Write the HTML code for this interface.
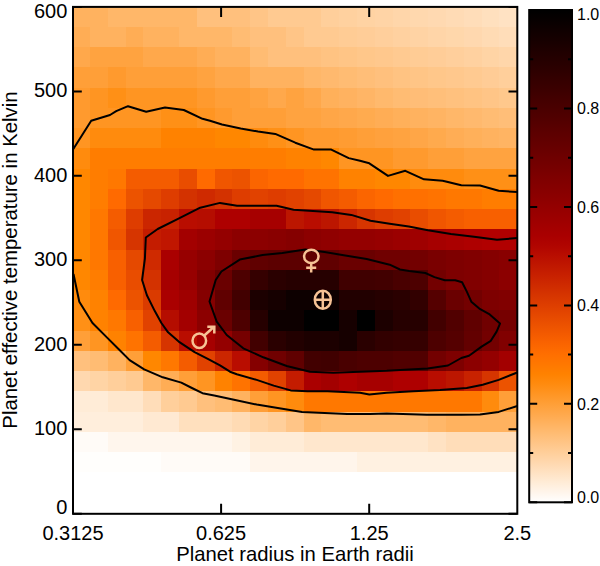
<!DOCTYPE html>
<html><head><meta charset="utf-8"><style>
html,body{margin:0;padding:0;background:#fff;}
svg{display:block;font-family:"Liberation Sans",sans-serif;}
</style></head><body>
<svg width="600" height="566" viewBox="0 0 600 566">
<defs><filter id="bl" x="-1%" y="-1%" width="102%" height="102%"><feGaussianBlur stdDeviation="0.6"/></filter><linearGradient id="cb" x1="0" y1="0" x2="0" y2="1"><stop offset="0.000" stop-color="#000000"/><stop offset="0.020" stop-color="#070000"/><stop offset="0.040" stop-color="#0f0000"/><stop offset="0.060" stop-color="#160000"/><stop offset="0.080" stop-color="#1e0000"/><stop offset="0.100" stop-color="#250000"/><stop offset="0.120" stop-color="#2c0000"/><stop offset="0.140" stop-color="#340000"/><stop offset="0.160" stop-color="#3b0000"/><stop offset="0.180" stop-color="#430000"/><stop offset="0.200" stop-color="#4a0000"/><stop offset="0.220" stop-color="#510000"/><stop offset="0.240" stop-color="#590000"/><stop offset="0.260" stop-color="#600000"/><stop offset="0.280" stop-color="#670000"/><stop offset="0.300" stop-color="#6f0000"/><stop offset="0.320" stop-color="#760000"/><stop offset="0.340" stop-color="#7e0000"/><stop offset="0.360" stop-color="#850000"/><stop offset="0.380" stop-color="#8c0000"/><stop offset="0.400" stop-color="#940000"/><stop offset="0.420" stop-color="#9b0000"/><stop offset="0.440" stop-color="#a30000"/><stop offset="0.460" stop-color="#aa0000"/><stop offset="0.480" stop-color="#b10500"/><stop offset="0.500" stop-color="#b90e00"/><stop offset="0.520" stop-color="#c01800"/><stop offset="0.540" stop-color="#c82100"/><stop offset="0.560" stop-color="#cf2b00"/><stop offset="0.580" stop-color="#d63500"/><stop offset="0.600" stop-color="#de3e00"/><stop offset="0.620" stop-color="#e54800"/><stop offset="0.640" stop-color="#ec5200"/><stop offset="0.660" stop-color="#f45b00"/><stop offset="0.680" stop-color="#fb6500"/><stop offset="0.700" stop-color="#ff6f00"/><stop offset="0.720" stop-color="#ff7800"/><stop offset="0.740" stop-color="#ff8200"/><stop offset="0.760" stop-color="#ff8b0f"/><stop offset="0.780" stop-color="#ff9523"/><stop offset="0.800" stop-color="#ff9f37"/><stop offset="0.820" stop-color="#ffa84b"/><stop offset="0.840" stop-color="#ffb25f"/><stop offset="0.860" stop-color="#ffbc73"/><stop offset="0.880" stop-color="#ffc587"/><stop offset="0.900" stop-color="#ffcf9b"/><stop offset="0.920" stop-color="#ffd8af"/><stop offset="0.940" stop-color="#ffe2c3"/><stop offset="0.960" stop-color="#ffecd7"/><stop offset="0.980" stop-color="#fff5eb"/><stop offset="1.000" stop-color="#ffffff"/></linearGradient></defs>
<g shape-rendering="crispEdges" filter="url(#bl)">
<rect x="72.20" y="6.50" width="18.20" height="20.66" fill="#ffb25f"/>
<rect x="90.00" y="6.50" width="18.20" height="20.66" fill="#ffb25f"/>
<rect x="107.80" y="6.50" width="18.20" height="20.66" fill="#ffb769"/>
<rect x="125.60" y="6.50" width="18.20" height="20.66" fill="#ffb769"/>
<rect x="143.40" y="6.50" width="18.20" height="20.66" fill="#ffb769"/>
<rect x="161.20" y="6.50" width="18.20" height="20.66" fill="#ffb769"/>
<rect x="179.00" y="6.50" width="18.20" height="20.66" fill="#ffb769"/>
<rect x="196.80" y="6.50" width="18.20" height="20.66" fill="#ffc07d"/>
<rect x="214.60" y="6.50" width="18.20" height="20.66" fill="#ffc07d"/>
<rect x="232.40" y="6.50" width="18.20" height="20.66" fill="#ffc07d"/>
<rect x="250.20" y="6.50" width="18.20" height="20.66" fill="#ffc587"/>
<rect x="268.00" y="6.50" width="18.20" height="20.66" fill="#ffca91"/>
<rect x="285.80" y="6.50" width="18.20" height="20.66" fill="#ffca91"/>
<rect x="303.60" y="6.50" width="18.20" height="20.66" fill="#ffca91"/>
<rect x="321.40" y="6.50" width="18.20" height="20.66" fill="#ffcf9b"/>
<rect x="339.20" y="6.50" width="18.20" height="20.66" fill="#ffd19f"/>
<rect x="357.00" y="6.50" width="18.20" height="20.66" fill="#ffd3a3"/>
<rect x="374.80" y="6.50" width="18.20" height="20.66" fill="#ffd4a6"/>
<rect x="392.60" y="6.50" width="18.20" height="20.66" fill="#ffd6aa"/>
<rect x="410.40" y="6.50" width="18.20" height="20.66" fill="#ffd8ae"/>
<rect x="428.20" y="6.50" width="18.20" height="20.66" fill="#ffd9b1"/>
<rect x="446.00" y="6.50" width="18.20" height="20.66" fill="#ffdbb5"/>
<rect x="463.80" y="6.50" width="18.20" height="20.66" fill="#ffddb9"/>
<rect x="481.60" y="6.50" width="18.20" height="20.66" fill="#ffe0be"/>
<rect x="499.40" y="6.50" width="18.20" height="20.66" fill="#ffe2c3"/>
<rect x="72.20" y="26.76" width="18.20" height="20.66" fill="#ffad55"/>
<rect x="90.00" y="26.76" width="18.20" height="20.66" fill="#ffb25f"/>
<rect x="107.80" y="26.76" width="18.20" height="20.66" fill="#ffb25f"/>
<rect x="125.60" y="26.76" width="18.20" height="20.66" fill="#ffad55"/>
<rect x="143.40" y="26.76" width="18.20" height="20.66" fill="#ffb25f"/>
<rect x="161.20" y="26.76" width="18.20" height="20.66" fill="#ffb25f"/>
<rect x="179.00" y="26.76" width="18.20" height="20.66" fill="#ffb769"/>
<rect x="196.80" y="26.76" width="18.20" height="20.66" fill="#ffb769"/>
<rect x="214.60" y="26.76" width="18.20" height="20.66" fill="#ffb769"/>
<rect x="232.40" y="26.76" width="18.20" height="20.66" fill="#ffbc73"/>
<rect x="250.20" y="26.76" width="18.20" height="20.66" fill="#ffc07d"/>
<rect x="268.00" y="26.76" width="18.20" height="20.66" fill="#ffc07d"/>
<rect x="285.80" y="26.76" width="18.20" height="20.66" fill="#ffc587"/>
<rect x="303.60" y="26.76" width="18.20" height="20.66" fill="#ffca91"/>
<rect x="321.40" y="26.76" width="18.20" height="20.66" fill="#ffca91"/>
<rect x="339.20" y="26.76" width="18.20" height="20.66" fill="#ffcc95"/>
<rect x="357.00" y="26.76" width="18.20" height="20.66" fill="#ffcd98"/>
<rect x="374.80" y="26.76" width="18.20" height="20.66" fill="#ffcf9c"/>
<rect x="392.60" y="26.76" width="18.20" height="20.66" fill="#ffd1a0"/>
<rect x="410.40" y="26.76" width="18.20" height="20.66" fill="#ffd3a4"/>
<rect x="428.20" y="26.76" width="18.20" height="20.66" fill="#ffd5a8"/>
<rect x="446.00" y="26.76" width="18.20" height="20.66" fill="#ffd7ab"/>
<rect x="463.80" y="26.76" width="18.20" height="20.66" fill="#ffd8af"/>
<rect x="481.60" y="26.76" width="18.20" height="20.66" fill="#ffdbb4"/>
<rect x="499.40" y="26.76" width="18.20" height="20.66" fill="#ffddb9"/>
<rect x="72.20" y="47.02" width="18.20" height="20.66" fill="#ffa84b"/>
<rect x="90.00" y="47.02" width="18.20" height="20.66" fill="#ffa341"/>
<rect x="107.80" y="47.02" width="18.20" height="20.66" fill="#ffa341"/>
<rect x="125.60" y="47.02" width="18.20" height="20.66" fill="#ffa341"/>
<rect x="143.40" y="47.02" width="18.20" height="20.66" fill="#ffa84b"/>
<rect x="161.20" y="47.02" width="18.20" height="20.66" fill="#ffa84b"/>
<rect x="179.00" y="47.02" width="18.20" height="20.66" fill="#ffa84b"/>
<rect x="196.80" y="47.02" width="18.20" height="20.66" fill="#ffad55"/>
<rect x="214.60" y="47.02" width="18.20" height="20.66" fill="#ffb25f"/>
<rect x="232.40" y="47.02" width="18.20" height="20.66" fill="#ffb25f"/>
<rect x="250.20" y="47.02" width="18.20" height="20.66" fill="#ffbc73"/>
<rect x="268.00" y="47.02" width="18.20" height="20.66" fill="#ffc07d"/>
<rect x="285.80" y="47.02" width="18.20" height="20.66" fill="#ffc07d"/>
<rect x="303.60" y="47.02" width="18.20" height="20.66" fill="#ffc07d"/>
<rect x="321.40" y="47.02" width="18.20" height="20.66" fill="#ffc382"/>
<rect x="339.20" y="47.02" width="18.20" height="20.66" fill="#ffc586"/>
<rect x="357.00" y="47.02" width="18.20" height="20.66" fill="#ffc78a"/>
<rect x="374.80" y="47.02" width="18.20" height="20.66" fill="#ffc88d"/>
<rect x="392.60" y="47.02" width="18.20" height="20.66" fill="#ffca91"/>
<rect x="410.40" y="47.02" width="18.20" height="20.66" fill="#ffcc95"/>
<rect x="428.20" y="47.02" width="18.20" height="20.66" fill="#ffcd98"/>
<rect x="446.00" y="47.02" width="18.20" height="20.66" fill="#ffcf9c"/>
<rect x="463.80" y="47.02" width="18.20" height="20.66" fill="#ffd1a0"/>
<rect x="481.60" y="47.02" width="18.20" height="20.66" fill="#ffd4a5"/>
<rect x="499.40" y="47.02" width="18.20" height="20.66" fill="#ffd6aa"/>
<rect x="72.20" y="67.28" width="18.20" height="20.66" fill="#ff9f37"/>
<rect x="90.00" y="67.28" width="18.20" height="20.66" fill="#ff9f37"/>
<rect x="107.80" y="67.28" width="18.20" height="20.66" fill="#ff9a2d"/>
<rect x="125.60" y="67.28" width="18.20" height="20.66" fill="#ff9f37"/>
<rect x="143.40" y="67.28" width="18.20" height="20.66" fill="#ff9f37"/>
<rect x="161.20" y="67.28" width="18.20" height="20.66" fill="#ff9f37"/>
<rect x="179.00" y="67.28" width="18.20" height="20.66" fill="#ff9f37"/>
<rect x="196.80" y="67.28" width="18.20" height="20.66" fill="#ffa341"/>
<rect x="214.60" y="67.28" width="18.20" height="20.66" fill="#ffa84b"/>
<rect x="232.40" y="67.28" width="18.20" height="20.66" fill="#ffa84b"/>
<rect x="250.20" y="67.28" width="18.20" height="20.66" fill="#ffb25f"/>
<rect x="268.00" y="67.28" width="18.20" height="20.66" fill="#ffb25f"/>
<rect x="285.80" y="67.28" width="18.20" height="20.66" fill="#ffb25f"/>
<rect x="303.60" y="67.28" width="18.20" height="20.66" fill="#ffb769"/>
<rect x="321.40" y="67.28" width="18.20" height="20.66" fill="#ffb96e"/>
<rect x="339.20" y="67.28" width="18.20" height="20.66" fill="#ffbc73"/>
<rect x="357.00" y="67.28" width="18.20" height="20.66" fill="#ffbe78"/>
<rect x="374.80" y="67.28" width="18.20" height="20.66" fill="#ffc07d"/>
<rect x="392.60" y="67.28" width="18.20" height="20.66" fill="#ffc382"/>
<rect x="410.40" y="67.28" width="18.20" height="20.66" fill="#ffc586"/>
<rect x="428.20" y="67.28" width="18.20" height="20.66" fill="#ffc78a"/>
<rect x="446.00" y="67.28" width="18.20" height="20.66" fill="#ffc88d"/>
<rect x="463.80" y="67.28" width="18.20" height="20.66" fill="#ffca91"/>
<rect x="481.60" y="67.28" width="18.20" height="20.66" fill="#ffcc96"/>
<rect x="499.40" y="67.28" width="18.20" height="20.66" fill="#ffcf9b"/>
<rect x="72.20" y="87.54" width="18.20" height="20.66" fill="#ff9a2d"/>
<rect x="90.00" y="87.54" width="18.20" height="20.66" fill="#ff9523"/>
<rect x="107.80" y="87.54" width="18.20" height="20.66" fill="#ff9019"/>
<rect x="125.60" y="87.54" width="18.20" height="20.66" fill="#ff9523"/>
<rect x="143.40" y="87.54" width="18.20" height="20.66" fill="#ff9523"/>
<rect x="161.20" y="87.54" width="18.20" height="20.66" fill="#ff9523"/>
<rect x="179.00" y="87.54" width="18.20" height="20.66" fill="#ff9523"/>
<rect x="196.80" y="87.54" width="18.20" height="20.66" fill="#ff9a2d"/>
<rect x="214.60" y="87.54" width="18.20" height="20.66" fill="#ff9f37"/>
<rect x="232.40" y="87.54" width="18.20" height="20.66" fill="#ff9f37"/>
<rect x="250.20" y="87.54" width="18.20" height="20.66" fill="#ffa341"/>
<rect x="268.00" y="87.54" width="18.20" height="20.66" fill="#ffa84b"/>
<rect x="285.80" y="87.54" width="18.20" height="20.66" fill="#ffa341"/>
<rect x="303.60" y="87.54" width="18.20" height="20.66" fill="#ffa84b"/>
<rect x="321.40" y="87.54" width="18.20" height="20.66" fill="#ffb05a"/>
<rect x="339.20" y="87.54" width="18.20" height="20.66" fill="#ffb260"/>
<rect x="357.00" y="87.54" width="18.20" height="20.66" fill="#ffb566"/>
<rect x="374.80" y="87.54" width="18.20" height="20.66" fill="#ffb96d"/>
<rect x="392.60" y="87.54" width="18.20" height="20.66" fill="#ffbc73"/>
<rect x="410.40" y="87.54" width="18.20" height="20.66" fill="#ffbd77"/>
<rect x="428.20" y="87.54" width="18.20" height="20.66" fill="#ffbf7a"/>
<rect x="446.00" y="87.54" width="18.20" height="20.66" fill="#ffc17e"/>
<rect x="463.80" y="87.54" width="18.20" height="20.66" fill="#ffc382"/>
<rect x="481.60" y="87.54" width="18.20" height="20.66" fill="#ffc587"/>
<rect x="499.40" y="87.54" width="18.20" height="20.66" fill="#ffc88c"/>
<rect x="72.20" y="107.80" width="18.20" height="20.66" fill="#ff9a2d"/>
<rect x="90.00" y="107.80" width="18.20" height="20.66" fill="#ff9523"/>
<rect x="107.80" y="107.80" width="18.20" height="20.66" fill="#ff9523"/>
<rect x="125.60" y="107.80" width="18.20" height="20.66" fill="#ff9523"/>
<rect x="143.40" y="107.80" width="18.20" height="20.66" fill="#ff9523"/>
<rect x="161.20" y="107.80" width="18.20" height="20.66" fill="#ff9019"/>
<rect x="179.00" y="107.80" width="18.20" height="20.66" fill="#ff9019"/>
<rect x="196.80" y="107.80" width="18.20" height="20.66" fill="#ff9523"/>
<rect x="214.60" y="107.80" width="18.20" height="20.66" fill="#ff9a2d"/>
<rect x="232.40" y="107.80" width="18.20" height="20.66" fill="#ff9f37"/>
<rect x="250.20" y="107.80" width="18.20" height="20.66" fill="#ff9f37"/>
<rect x="268.00" y="107.80" width="18.20" height="20.66" fill="#ff9f37"/>
<rect x="285.80" y="107.80" width="18.20" height="20.66" fill="#ffa341"/>
<rect x="303.60" y="107.80" width="18.20" height="20.66" fill="#ffa341"/>
<rect x="321.40" y="107.80" width="18.20" height="20.66" fill="#ffa646"/>
<rect x="339.20" y="107.80" width="18.20" height="20.66" fill="#ffa84b"/>
<rect x="357.00" y="107.80" width="18.20" height="20.66" fill="#ffab50"/>
<rect x="374.80" y="107.80" width="18.20" height="20.66" fill="#ffad55"/>
<rect x="392.60" y="107.80" width="18.20" height="20.66" fill="#ffb05a"/>
<rect x="410.40" y="107.80" width="18.20" height="20.66" fill="#ffb25f"/>
<rect x="428.20" y="107.80" width="18.20" height="20.66" fill="#ffb464"/>
<rect x="446.00" y="107.80" width="18.20" height="20.66" fill="#ffb769"/>
<rect x="463.80" y="107.80" width="18.20" height="20.66" fill="#ffb96e"/>
<rect x="481.60" y="107.80" width="18.20" height="20.66" fill="#ffbc73"/>
<rect x="499.40" y="107.80" width="18.20" height="20.66" fill="#ffbe78"/>
<rect x="72.20" y="128.06" width="18.20" height="20.66" fill="#ff9523"/>
<rect x="90.00" y="128.06" width="18.20" height="20.66" fill="#ff8b0f"/>
<rect x="107.80" y="128.06" width="18.20" height="20.66" fill="#ff8b0f"/>
<rect x="125.60" y="128.06" width="18.20" height="20.66" fill="#ff8b0f"/>
<rect x="143.40" y="128.06" width="18.20" height="20.66" fill="#ff8b0f"/>
<rect x="161.20" y="128.06" width="18.20" height="20.66" fill="#ff8200"/>
<rect x="179.00" y="128.06" width="18.20" height="20.66" fill="#ff8200"/>
<rect x="196.80" y="128.06" width="18.20" height="20.66" fill="#ff8200"/>
<rect x="214.60" y="128.06" width="18.20" height="20.66" fill="#ff8705"/>
<rect x="232.40" y="128.06" width="18.20" height="20.66" fill="#ff8705"/>
<rect x="250.20" y="128.06" width="18.20" height="20.66" fill="#ff8b0f"/>
<rect x="268.00" y="128.06" width="18.20" height="20.66" fill="#ff9019"/>
<rect x="285.80" y="128.06" width="18.20" height="20.66" fill="#ff9523"/>
<rect x="303.60" y="128.06" width="18.20" height="20.66" fill="#ff9a2d"/>
<rect x="321.40" y="128.06" width="18.20" height="20.66" fill="#ff9a2d"/>
<rect x="339.20" y="128.06" width="18.20" height="20.66" fill="#ff9c32"/>
<rect x="357.00" y="128.06" width="18.20" height="20.66" fill="#ff9f37"/>
<rect x="374.80" y="128.06" width="18.20" height="20.66" fill="#ffa13c"/>
<rect x="392.60" y="128.06" width="18.20" height="20.66" fill="#ffa341"/>
<rect x="410.40" y="128.06" width="18.20" height="20.66" fill="#ffa647"/>
<rect x="428.20" y="128.06" width="18.20" height="20.66" fill="#ffaa4e"/>
<rect x="446.00" y="128.06" width="18.20" height="20.66" fill="#ffad54"/>
<rect x="463.80" y="128.06" width="18.20" height="20.66" fill="#ffb05a"/>
<rect x="481.60" y="128.06" width="18.20" height="20.66" fill="#ffb25f"/>
<rect x="499.40" y="128.06" width="18.20" height="20.66" fill="#ffb464"/>
<rect x="72.20" y="148.32" width="18.20" height="20.66" fill="#ff8b0f"/>
<rect x="90.00" y="148.32" width="18.20" height="20.66" fill="#ff7d00"/>
<rect x="107.80" y="148.32" width="18.20" height="20.66" fill="#ff7d00"/>
<rect x="125.60" y="148.32" width="18.20" height="20.66" fill="#ff7d00"/>
<rect x="143.40" y="148.32" width="18.20" height="20.66" fill="#ff7d00"/>
<rect x="161.20" y="148.32" width="18.20" height="20.66" fill="#ff7d00"/>
<rect x="179.00" y="148.32" width="18.20" height="20.66" fill="#ff7d00"/>
<rect x="196.80" y="148.32" width="18.20" height="20.66" fill="#ff7d00"/>
<rect x="214.60" y="148.32" width="18.20" height="20.66" fill="#ff7d00"/>
<rect x="232.40" y="148.32" width="18.20" height="20.66" fill="#ff7d00"/>
<rect x="250.20" y="148.32" width="18.20" height="20.66" fill="#ff7d00"/>
<rect x="268.00" y="148.32" width="18.20" height="20.66" fill="#ff7d00"/>
<rect x="285.80" y="148.32" width="18.20" height="20.66" fill="#ff8200"/>
<rect x="303.60" y="148.32" width="18.20" height="20.66" fill="#ff8200"/>
<rect x="321.40" y="148.32" width="18.20" height="20.66" fill="#ff8705"/>
<rect x="339.20" y="148.32" width="18.20" height="20.66" fill="#ff9523"/>
<rect x="357.00" y="148.32" width="18.20" height="20.66" fill="#ff9523"/>
<rect x="374.80" y="148.32" width="18.20" height="20.66" fill="#ff9523"/>
<rect x="392.60" y="148.32" width="18.20" height="20.66" fill="#ff9a2d"/>
<rect x="410.40" y="148.32" width="18.20" height="20.66" fill="#ff9a2d"/>
<rect x="428.20" y="148.32" width="18.20" height="20.66" fill="#ff9f37"/>
<rect x="446.00" y="148.32" width="18.20" height="20.66" fill="#ff9f37"/>
<rect x="463.80" y="148.32" width="18.20" height="20.66" fill="#ffa341"/>
<rect x="481.60" y="148.32" width="18.20" height="20.66" fill="#ffa341"/>
<rect x="499.40" y="148.32" width="18.20" height="20.66" fill="#ffa341"/>
<rect x="72.20" y="168.58" width="18.20" height="20.66" fill="#ff8705"/>
<rect x="90.00" y="168.58" width="18.20" height="20.66" fill="#ff7d00"/>
<rect x="107.80" y="168.58" width="18.20" height="20.66" fill="#ff7800"/>
<rect x="125.60" y="168.58" width="18.20" height="20.66" fill="#f45b00"/>
<rect x="143.40" y="168.58" width="18.20" height="20.66" fill="#f45b00"/>
<rect x="161.20" y="168.58" width="18.20" height="20.66" fill="#f45b00"/>
<rect x="179.00" y="168.58" width="18.20" height="20.66" fill="#e94d00"/>
<rect x="196.80" y="168.58" width="18.20" height="20.66" fill="#ff6a00"/>
<rect x="214.60" y="168.58" width="18.20" height="20.66" fill="#f05600"/>
<rect x="232.40" y="168.58" width="18.20" height="20.66" fill="#ec5200"/>
<rect x="250.20" y="168.58" width="18.20" height="20.66" fill="#fb6500"/>
<rect x="268.00" y="168.58" width="18.20" height="20.66" fill="#ff6a00"/>
<rect x="285.80" y="168.58" width="18.20" height="20.66" fill="#ff6a00"/>
<rect x="303.60" y="168.58" width="18.20" height="20.66" fill="#ff7300"/>
<rect x="321.40" y="168.58" width="18.20" height="20.66" fill="#ff7300"/>
<rect x="339.20" y="168.58" width="18.20" height="20.66" fill="#ff8200"/>
<rect x="357.00" y="168.58" width="18.20" height="20.66" fill="#ff8200"/>
<rect x="374.80" y="168.58" width="18.20" height="20.66" fill="#ff8705"/>
<rect x="392.60" y="168.58" width="18.20" height="20.66" fill="#ff8705"/>
<rect x="410.40" y="168.58" width="18.20" height="20.66" fill="#ff8b0f"/>
<rect x="428.20" y="168.58" width="18.20" height="20.66" fill="#ff8b0f"/>
<rect x="446.00" y="168.58" width="18.20" height="20.66" fill="#ff8b0f"/>
<rect x="463.80" y="168.58" width="18.20" height="20.66" fill="#ff9019"/>
<rect x="481.60" y="168.58" width="18.20" height="20.66" fill="#ff9019"/>
<rect x="499.40" y="168.58" width="18.20" height="20.66" fill="#ff9019"/>
<rect x="72.20" y="188.84" width="18.20" height="20.66" fill="#ff8705"/>
<rect x="90.00" y="188.84" width="18.20" height="20.66" fill="#ff7d00"/>
<rect x="107.80" y="188.84" width="18.20" height="20.66" fill="#ff6a00"/>
<rect x="125.60" y="188.84" width="18.20" height="20.66" fill="#ec5200"/>
<rect x="143.40" y="188.84" width="18.20" height="20.66" fill="#e54800"/>
<rect x="161.20" y="188.84" width="18.20" height="20.66" fill="#de3e00"/>
<rect x="179.00" y="188.84" width="18.20" height="20.66" fill="#d33000"/>
<rect x="196.80" y="188.84" width="18.20" height="20.66" fill="#cf2b00"/>
<rect x="214.60" y="188.84" width="18.20" height="20.66" fill="#d33000"/>
<rect x="232.40" y="188.84" width="18.20" height="20.66" fill="#de3e00"/>
<rect x="250.20" y="188.84" width="18.20" height="20.66" fill="#e14300"/>
<rect x="268.00" y="188.84" width="18.20" height="20.66" fill="#de3e00"/>
<rect x="285.80" y="188.84" width="18.20" height="20.66" fill="#e14300"/>
<rect x="303.60" y="188.84" width="18.20" height="20.66" fill="#e54800"/>
<rect x="321.40" y="188.84" width="18.20" height="20.66" fill="#f05600"/>
<rect x="339.20" y="188.84" width="18.20" height="20.66" fill="#f45b00"/>
<rect x="357.00" y="188.84" width="18.20" height="20.66" fill="#fb6500"/>
<rect x="374.80" y="188.84" width="18.20" height="20.66" fill="#ff6a00"/>
<rect x="392.60" y="188.84" width="18.20" height="20.66" fill="#ff6f00"/>
<rect x="410.40" y="188.84" width="18.20" height="20.66" fill="#ff6f00"/>
<rect x="428.20" y="188.84" width="18.20" height="20.66" fill="#ff7300"/>
<rect x="446.00" y="188.84" width="18.20" height="20.66" fill="#ff7800"/>
<rect x="463.80" y="188.84" width="18.20" height="20.66" fill="#ff7800"/>
<rect x="481.60" y="188.84" width="18.20" height="20.66" fill="#ff7d00"/>
<rect x="499.40" y="188.84" width="18.20" height="20.66" fill="#ff7d00"/>
<rect x="72.20" y="209.10" width="18.20" height="20.66" fill="#ff8705"/>
<rect x="90.00" y="209.10" width="18.20" height="20.66" fill="#ff7800"/>
<rect x="107.80" y="209.10" width="18.20" height="20.66" fill="#f45b00"/>
<rect x="125.60" y="209.10" width="18.20" height="20.66" fill="#de3e00"/>
<rect x="143.40" y="209.10" width="18.20" height="20.66" fill="#cb2600"/>
<rect x="161.20" y="209.10" width="18.20" height="20.66" fill="#c82100"/>
<rect x="179.00" y="209.10" width="18.20" height="20.66" fill="#b90e00"/>
<rect x="196.80" y="209.10" width="18.20" height="20.66" fill="#b50900"/>
<rect x="214.60" y="209.10" width="18.20" height="20.66" fill="#ae0000"/>
<rect x="232.40" y="209.10" width="18.20" height="20.66" fill="#ae0000"/>
<rect x="250.20" y="209.10" width="18.20" height="20.66" fill="#a60000"/>
<rect x="268.00" y="209.10" width="18.20" height="20.66" fill="#a60000"/>
<rect x="285.80" y="209.10" width="18.20" height="20.66" fill="#bc1300"/>
<rect x="303.60" y="209.10" width="18.20" height="20.66" fill="#b90e00"/>
<rect x="321.40" y="209.10" width="18.20" height="20.66" fill="#bc1300"/>
<rect x="339.20" y="209.10" width="18.20" height="20.66" fill="#cb2600"/>
<rect x="357.00" y="209.10" width="18.20" height="20.66" fill="#d63500"/>
<rect x="374.80" y="209.10" width="18.20" height="20.66" fill="#de3e00"/>
<rect x="392.60" y="209.10" width="18.20" height="20.66" fill="#e14300"/>
<rect x="410.40" y="209.10" width="18.20" height="20.66" fill="#e94d00"/>
<rect x="428.20" y="209.10" width="18.20" height="20.66" fill="#f05600"/>
<rect x="446.00" y="209.10" width="18.20" height="20.66" fill="#f45b00"/>
<rect x="463.80" y="209.10" width="18.20" height="20.66" fill="#f86000"/>
<rect x="481.60" y="209.10" width="18.20" height="20.66" fill="#f86000"/>
<rect x="499.40" y="209.10" width="18.20" height="20.66" fill="#f86000"/>
<rect x="72.20" y="229.36" width="18.20" height="20.66" fill="#ff8705"/>
<rect x="90.00" y="229.36" width="18.20" height="20.66" fill="#ff7800"/>
<rect x="107.80" y="229.36" width="18.20" height="20.66" fill="#f05600"/>
<rect x="125.60" y="229.36" width="18.20" height="20.66" fill="#d63500"/>
<rect x="143.40" y="229.36" width="18.20" height="20.66" fill="#c41d00"/>
<rect x="161.20" y="229.36" width="18.20" height="20.66" fill="#c01800"/>
<rect x="179.00" y="229.36" width="18.20" height="20.66" fill="#a30000"/>
<rect x="196.80" y="229.36" width="18.20" height="20.66" fill="#9b0000"/>
<rect x="214.60" y="229.36" width="18.20" height="20.66" fill="#940000"/>
<rect x="232.40" y="229.36" width="18.20" height="20.66" fill="#8c0000"/>
<rect x="250.20" y="229.36" width="18.20" height="20.66" fill="#8c0000"/>
<rect x="268.00" y="229.36" width="18.20" height="20.66" fill="#890000"/>
<rect x="285.80" y="229.36" width="18.20" height="20.66" fill="#850000"/>
<rect x="303.60" y="229.36" width="18.20" height="20.66" fill="#8c0000"/>
<rect x="321.40" y="229.36" width="18.20" height="20.66" fill="#900000"/>
<rect x="339.20" y="229.36" width="18.20" height="20.66" fill="#940000"/>
<rect x="357.00" y="229.36" width="18.20" height="20.66" fill="#940000"/>
<rect x="374.80" y="229.36" width="18.20" height="20.66" fill="#970000"/>
<rect x="392.60" y="229.36" width="18.20" height="20.66" fill="#9b0000"/>
<rect x="410.40" y="229.36" width="18.20" height="20.66" fill="#9f0000"/>
<rect x="428.20" y="229.36" width="18.20" height="20.66" fill="#a60000"/>
<rect x="446.00" y="229.36" width="18.20" height="20.66" fill="#aa0000"/>
<rect x="463.80" y="229.36" width="18.20" height="20.66" fill="#ae0000"/>
<rect x="481.60" y="229.36" width="18.20" height="20.66" fill="#b10500"/>
<rect x="499.40" y="229.36" width="18.20" height="20.66" fill="#b10500"/>
<rect x="72.20" y="249.62" width="18.20" height="20.66" fill="#ff8705"/>
<rect x="90.00" y="249.62" width="18.20" height="20.66" fill="#ff7800"/>
<rect x="107.80" y="249.62" width="18.20" height="20.66" fill="#f86000"/>
<rect x="125.60" y="249.62" width="18.20" height="20.66" fill="#e54800"/>
<rect x="143.40" y="249.62" width="18.20" height="20.66" fill="#cf2b00"/>
<rect x="161.20" y="249.62" width="18.20" height="20.66" fill="#aa0000"/>
<rect x="179.00" y="249.62" width="18.20" height="20.66" fill="#970000"/>
<rect x="196.80" y="249.62" width="18.20" height="20.66" fill="#8c0000"/>
<rect x="214.60" y="249.62" width="18.20" height="20.66" fill="#7e0000"/>
<rect x="232.40" y="249.62" width="18.20" height="20.66" fill="#6b0000"/>
<rect x="250.20" y="249.62" width="18.20" height="20.66" fill="#600000"/>
<rect x="268.00" y="249.62" width="18.20" height="20.66" fill="#5c0000"/>
<rect x="285.80" y="249.62" width="18.20" height="20.66" fill="#5c0000"/>
<rect x="303.60" y="249.62" width="18.20" height="20.66" fill="#600000"/>
<rect x="321.40" y="249.62" width="18.20" height="20.66" fill="#600000"/>
<rect x="339.20" y="249.62" width="18.20" height="20.66" fill="#6b0000"/>
<rect x="357.00" y="249.62" width="18.20" height="20.66" fill="#6b0000"/>
<rect x="374.80" y="249.62" width="18.20" height="20.66" fill="#6f0000"/>
<rect x="392.60" y="249.62" width="18.20" height="20.66" fill="#6f0000"/>
<rect x="410.40" y="249.62" width="18.20" height="20.66" fill="#730000"/>
<rect x="428.20" y="249.62" width="18.20" height="20.66" fill="#7a0000"/>
<rect x="446.00" y="249.62" width="18.20" height="20.66" fill="#7e0000"/>
<rect x="463.80" y="249.62" width="18.20" height="20.66" fill="#810000"/>
<rect x="481.60" y="249.62" width="18.20" height="20.66" fill="#850000"/>
<rect x="499.40" y="249.62" width="18.20" height="20.66" fill="#890000"/>
<rect x="72.20" y="269.88" width="18.20" height="20.66" fill="#ff8705"/>
<rect x="90.00" y="269.88" width="18.20" height="20.66" fill="#ff7d00"/>
<rect x="107.80" y="269.88" width="18.20" height="20.66" fill="#f86000"/>
<rect x="125.60" y="269.88" width="18.20" height="20.66" fill="#e94d00"/>
<rect x="143.40" y="269.88" width="18.20" height="20.66" fill="#d33000"/>
<rect x="161.20" y="269.88" width="18.20" height="20.66" fill="#a60000"/>
<rect x="179.00" y="269.88" width="18.20" height="20.66" fill="#970000"/>
<rect x="196.80" y="269.88" width="18.20" height="20.66" fill="#810000"/>
<rect x="214.60" y="269.88" width="18.20" height="20.66" fill="#6b0000"/>
<rect x="232.40" y="269.88" width="18.20" height="20.66" fill="#4e0000"/>
<rect x="250.20" y="269.88" width="18.20" height="20.66" fill="#340000"/>
<rect x="268.00" y="269.88" width="18.20" height="20.66" fill="#2c0000"/>
<rect x="285.80" y="269.88" width="18.20" height="20.66" fill="#250000"/>
<rect x="303.60" y="269.88" width="18.20" height="20.66" fill="#250000"/>
<rect x="321.40" y="269.88" width="18.20" height="20.66" fill="#250000"/>
<rect x="339.20" y="269.88" width="18.20" height="20.66" fill="#3f0000"/>
<rect x="357.00" y="269.88" width="18.20" height="20.66" fill="#3f0000"/>
<rect x="374.80" y="269.88" width="18.20" height="20.66" fill="#430000"/>
<rect x="392.60" y="269.88" width="18.20" height="20.66" fill="#4a0000"/>
<rect x="410.40" y="269.88" width="18.20" height="20.66" fill="#4e0000"/>
<rect x="428.20" y="269.88" width="18.20" height="20.66" fill="#730000"/>
<rect x="446.00" y="269.88" width="18.20" height="20.66" fill="#7e0000"/>
<rect x="463.80" y="269.88" width="18.20" height="20.66" fill="#810000"/>
<rect x="481.60" y="269.88" width="18.20" height="20.66" fill="#850000"/>
<rect x="499.40" y="269.88" width="18.20" height="20.66" fill="#8c0000"/>
<rect x="72.20" y="290.14" width="18.20" height="20.66" fill="#ff8b0f"/>
<rect x="90.00" y="290.14" width="18.20" height="20.66" fill="#ff8200"/>
<rect x="107.80" y="290.14" width="18.20" height="20.66" fill="#ff6a00"/>
<rect x="125.60" y="290.14" width="18.20" height="20.66" fill="#ec5200"/>
<rect x="143.40" y="290.14" width="18.20" height="20.66" fill="#da3a00"/>
<rect x="161.20" y="290.14" width="18.20" height="20.66" fill="#aa0000"/>
<rect x="179.00" y="290.14" width="18.20" height="20.66" fill="#9f0000"/>
<rect x="196.80" y="290.14" width="18.20" height="20.66" fill="#850000"/>
<rect x="214.60" y="290.14" width="18.20" height="20.66" fill="#600000"/>
<rect x="232.40" y="290.14" width="18.20" height="20.66" fill="#430000"/>
<rect x="250.20" y="290.14" width="18.20" height="20.66" fill="#1e0000"/>
<rect x="268.00" y="290.14" width="18.20" height="20.66" fill="#120000"/>
<rect x="285.80" y="290.14" width="18.20" height="20.66" fill="#0f0000"/>
<rect x="303.60" y="290.14" width="18.20" height="20.66" fill="#0f0000"/>
<rect x="321.40" y="290.14" width="18.20" height="20.66" fill="#0b0000"/>
<rect x="339.20" y="290.14" width="18.20" height="20.66" fill="#210000"/>
<rect x="357.00" y="290.14" width="18.20" height="20.66" fill="#210000"/>
<rect x="374.80" y="290.14" width="18.20" height="20.66" fill="#250000"/>
<rect x="392.60" y="290.14" width="18.20" height="20.66" fill="#2c0000"/>
<rect x="410.40" y="290.14" width="18.20" height="20.66" fill="#300000"/>
<rect x="428.20" y="290.14" width="18.20" height="20.66" fill="#550000"/>
<rect x="446.00" y="290.14" width="18.20" height="20.66" fill="#6b0000"/>
<rect x="463.80" y="290.14" width="18.20" height="20.66" fill="#730000"/>
<rect x="481.60" y="290.14" width="18.20" height="20.66" fill="#7e0000"/>
<rect x="499.40" y="290.14" width="18.20" height="20.66" fill="#810000"/>
<rect x="72.20" y="310.40" width="18.20" height="20.66" fill="#ff9019"/>
<rect x="90.00" y="310.40" width="18.20" height="20.66" fill="#ff8200"/>
<rect x="107.80" y="310.40" width="18.20" height="20.66" fill="#ff7800"/>
<rect x="125.60" y="310.40" width="18.20" height="20.66" fill="#f86000"/>
<rect x="143.40" y="310.40" width="18.20" height="20.66" fill="#e14300"/>
<rect x="161.20" y="310.40" width="18.20" height="20.66" fill="#b50900"/>
<rect x="179.00" y="310.40" width="18.20" height="20.66" fill="#a30000"/>
<rect x="196.80" y="310.40" width="18.20" height="20.66" fill="#8c0000"/>
<rect x="214.60" y="310.40" width="18.20" height="20.66" fill="#6b0000"/>
<rect x="232.40" y="310.40" width="18.20" height="20.66" fill="#4e0000"/>
<rect x="250.20" y="310.40" width="18.20" height="20.66" fill="#250000"/>
<rect x="268.00" y="310.40" width="18.20" height="20.66" fill="#0f0000"/>
<rect x="285.80" y="310.40" width="18.20" height="20.66" fill="#070000"/>
<rect x="303.60" y="310.40" width="18.20" height="20.66" fill="#040000"/>
<rect x="321.40" y="310.40" width="18.20" height="20.66" fill="#040000"/>
<rect x="339.20" y="310.40" width="18.20" height="20.66" fill="#120000"/>
<rect x="357.00" y="310.40" width="18.20" height="20.66" fill="#040000"/>
<rect x="374.80" y="310.40" width="18.20" height="20.66" fill="#1a0000"/>
<rect x="392.60" y="310.40" width="18.20" height="20.66" fill="#250000"/>
<rect x="410.40" y="310.40" width="18.20" height="20.66" fill="#250000"/>
<rect x="428.20" y="310.40" width="18.20" height="20.66" fill="#430000"/>
<rect x="446.00" y="310.40" width="18.20" height="20.66" fill="#510000"/>
<rect x="463.80" y="310.40" width="18.20" height="20.66" fill="#600000"/>
<rect x="481.60" y="310.40" width="18.20" height="20.66" fill="#6f0000"/>
<rect x="499.40" y="310.40" width="18.20" height="20.66" fill="#760000"/>
<rect x="72.20" y="330.66" width="18.20" height="20.66" fill="#ff9f37"/>
<rect x="90.00" y="330.66" width="18.20" height="20.66" fill="#ff9523"/>
<rect x="107.80" y="330.66" width="18.20" height="20.66" fill="#ff8200"/>
<rect x="125.60" y="330.66" width="18.20" height="20.66" fill="#ff7300"/>
<rect x="143.40" y="330.66" width="18.20" height="20.66" fill="#f45b00"/>
<rect x="161.20" y="330.66" width="18.20" height="20.66" fill="#d63500"/>
<rect x="179.00" y="330.66" width="18.20" height="20.66" fill="#b90e00"/>
<rect x="196.80" y="330.66" width="18.20" height="20.66" fill="#a60000"/>
<rect x="214.60" y="330.66" width="18.20" height="20.66" fill="#940000"/>
<rect x="232.40" y="330.66" width="18.20" height="20.66" fill="#760000"/>
<rect x="250.20" y="330.66" width="18.20" height="20.66" fill="#430000"/>
<rect x="268.00" y="330.66" width="18.20" height="20.66" fill="#2c0000"/>
<rect x="285.80" y="330.66" width="18.20" height="20.66" fill="#210000"/>
<rect x="303.60" y="330.66" width="18.20" height="20.66" fill="#1e0000"/>
<rect x="321.40" y="330.66" width="18.20" height="20.66" fill="#1e0000"/>
<rect x="339.20" y="330.66" width="18.20" height="20.66" fill="#160000"/>
<rect x="357.00" y="330.66" width="18.20" height="20.66" fill="#290000"/>
<rect x="374.80" y="330.66" width="18.20" height="20.66" fill="#300000"/>
<rect x="392.60" y="330.66" width="18.20" height="20.66" fill="#340000"/>
<rect x="410.40" y="330.66" width="18.20" height="20.66" fill="#340000"/>
<rect x="428.20" y="330.66" width="18.20" height="20.66" fill="#4e0000"/>
<rect x="446.00" y="330.66" width="18.20" height="20.66" fill="#550000"/>
<rect x="463.80" y="330.66" width="18.20" height="20.66" fill="#640000"/>
<rect x="481.60" y="330.66" width="18.20" height="20.66" fill="#730000"/>
<rect x="499.40" y="330.66" width="18.20" height="20.66" fill="#810000"/>
<rect x="72.20" y="350.92" width="18.20" height="20.66" fill="#ffc07d"/>
<rect x="90.00" y="350.92" width="18.20" height="20.66" fill="#ffbc73"/>
<rect x="107.80" y="350.92" width="18.20" height="20.66" fill="#ffb25f"/>
<rect x="125.60" y="350.92" width="18.20" height="20.66" fill="#ff9f37"/>
<rect x="143.40" y="350.92" width="18.20" height="20.66" fill="#ff8705"/>
<rect x="161.20" y="350.92" width="18.20" height="20.66" fill="#ff7800"/>
<rect x="179.00" y="350.92" width="18.20" height="20.66" fill="#f45b00"/>
<rect x="196.80" y="350.92" width="18.20" height="20.66" fill="#e14300"/>
<rect x="214.60" y="350.92" width="18.20" height="20.66" fill="#cb2600"/>
<rect x="232.40" y="350.92" width="18.20" height="20.66" fill="#b90e00"/>
<rect x="250.20" y="350.92" width="18.20" height="20.66" fill="#850000"/>
<rect x="268.00" y="350.92" width="18.20" height="20.66" fill="#6f0000"/>
<rect x="285.80" y="350.92" width="18.20" height="20.66" fill="#600000"/>
<rect x="303.60" y="350.92" width="18.20" height="20.66" fill="#430000"/>
<rect x="321.40" y="350.92" width="18.20" height="20.66" fill="#3f0000"/>
<rect x="339.20" y="350.92" width="18.20" height="20.66" fill="#4a0000"/>
<rect x="357.00" y="350.92" width="18.20" height="20.66" fill="#4e0000"/>
<rect x="374.80" y="350.92" width="18.20" height="20.66" fill="#4e0000"/>
<rect x="392.60" y="350.92" width="18.20" height="20.66" fill="#510000"/>
<rect x="410.40" y="350.92" width="18.20" height="20.66" fill="#510000"/>
<rect x="428.20" y="350.92" width="18.20" height="20.66" fill="#730000"/>
<rect x="446.00" y="350.92" width="18.20" height="20.66" fill="#7e0000"/>
<rect x="463.80" y="350.92" width="18.20" height="20.66" fill="#8c0000"/>
<rect x="481.60" y="350.92" width="18.20" height="20.66" fill="#940000"/>
<rect x="499.40" y="350.92" width="18.20" height="20.66" fill="#a30000"/>
<rect x="72.20" y="371.18" width="18.20" height="20.66" fill="#ffd8af"/>
<rect x="90.00" y="371.18" width="18.20" height="20.66" fill="#ffd4a5"/>
<rect x="107.80" y="371.18" width="18.20" height="20.66" fill="#ffcf9b"/>
<rect x="125.60" y="371.18" width="18.20" height="20.66" fill="#ffca91"/>
<rect x="143.40" y="371.18" width="18.20" height="20.66" fill="#ffb769"/>
<rect x="161.20" y="371.18" width="18.20" height="20.66" fill="#ffad55"/>
<rect x="179.00" y="371.18" width="18.20" height="20.66" fill="#ff9f37"/>
<rect x="196.80" y="371.18" width="18.20" height="20.66" fill="#ff9523"/>
<rect x="214.60" y="371.18" width="18.20" height="20.66" fill="#ff8200"/>
<rect x="232.40" y="371.18" width="18.20" height="20.66" fill="#ff7300"/>
<rect x="250.20" y="371.18" width="18.20" height="20.66" fill="#f45b00"/>
<rect x="268.00" y="371.18" width="18.20" height="20.66" fill="#e14300"/>
<rect x="285.80" y="371.18" width="18.20" height="20.66" fill="#c41d00"/>
<rect x="303.60" y="371.18" width="18.20" height="20.66" fill="#aa0000"/>
<rect x="321.40" y="371.18" width="18.20" height="20.66" fill="#a30000"/>
<rect x="339.20" y="371.18" width="18.20" height="20.66" fill="#ae0000"/>
<rect x="357.00" y="371.18" width="18.20" height="20.66" fill="#a60000"/>
<rect x="374.80" y="371.18" width="18.20" height="20.66" fill="#a60000"/>
<rect x="392.60" y="371.18" width="18.20" height="20.66" fill="#ae0000"/>
<rect x="410.40" y="371.18" width="18.20" height="20.66" fill="#ae0000"/>
<rect x="428.20" y="371.18" width="18.20" height="20.66" fill="#b90e00"/>
<rect x="446.00" y="371.18" width="18.20" height="20.66" fill="#bc1300"/>
<rect x="463.80" y="371.18" width="18.20" height="20.66" fill="#c82100"/>
<rect x="481.60" y="371.18" width="18.20" height="20.66" fill="#d63500"/>
<rect x="499.40" y="371.18" width="18.20" height="20.66" fill="#ec5200"/>
<rect x="72.20" y="391.44" width="18.20" height="20.66" fill="#ffecd7"/>
<rect x="90.00" y="391.44" width="18.20" height="20.66" fill="#ffecd7"/>
<rect x="107.80" y="391.44" width="18.20" height="20.66" fill="#ffe7cd"/>
<rect x="125.60" y="391.44" width="18.20" height="20.66" fill="#ffe7cd"/>
<rect x="143.40" y="391.44" width="18.20" height="20.66" fill="#ffddb9"/>
<rect x="161.20" y="391.44" width="18.20" height="20.66" fill="#ffcf9b"/>
<rect x="179.00" y="391.44" width="18.20" height="20.66" fill="#ffca91"/>
<rect x="196.80" y="391.44" width="18.20" height="20.66" fill="#ffc07d"/>
<rect x="214.60" y="391.44" width="18.20" height="20.66" fill="#ffbc73"/>
<rect x="232.40" y="391.44" width="18.20" height="20.66" fill="#ffb25f"/>
<rect x="250.20" y="391.44" width="18.20" height="20.66" fill="#ff9f37"/>
<rect x="268.00" y="391.44" width="18.20" height="20.66" fill="#ff9523"/>
<rect x="285.80" y="391.44" width="18.20" height="20.66" fill="#ff8b0f"/>
<rect x="303.60" y="391.44" width="18.20" height="20.66" fill="#ff7800"/>
<rect x="321.40" y="391.44" width="18.20" height="20.66" fill="#ff7800"/>
<rect x="339.20" y="391.44" width="18.20" height="20.66" fill="#ff7800"/>
<rect x="357.00" y="391.44" width="18.20" height="20.66" fill="#ff7800"/>
<rect x="374.80" y="391.44" width="18.20" height="20.66" fill="#ff7800"/>
<rect x="392.60" y="391.44" width="18.20" height="20.66" fill="#ff7800"/>
<rect x="410.40" y="391.44" width="18.20" height="20.66" fill="#ff7800"/>
<rect x="428.20" y="391.44" width="18.20" height="20.66" fill="#ff7800"/>
<rect x="446.00" y="391.44" width="18.20" height="20.66" fill="#ff7800"/>
<rect x="463.80" y="391.44" width="18.20" height="20.66" fill="#ff7800"/>
<rect x="481.60" y="391.44" width="18.20" height="20.66" fill="#ff8b0f"/>
<rect x="499.40" y="391.44" width="18.20" height="20.66" fill="#ff9f37"/>
<rect x="72.20" y="411.70" width="18.20" height="20.66" fill="#ffeedc"/>
<rect x="90.00" y="411.70" width="18.20" height="20.66" fill="#ffeedc"/>
<rect x="107.80" y="411.70" width="18.20" height="20.66" fill="#ffeedc"/>
<rect x="125.60" y="411.70" width="18.20" height="20.66" fill="#ffeedc"/>
<rect x="143.40" y="411.70" width="18.20" height="20.66" fill="#ffe9d2"/>
<rect x="161.20" y="411.70" width="18.20" height="20.66" fill="#ffe9d2"/>
<rect x="179.00" y="411.70" width="18.20" height="20.66" fill="#ffe0be"/>
<rect x="196.80" y="411.70" width="18.20" height="20.66" fill="#ffe0be"/>
<rect x="214.60" y="411.70" width="18.20" height="20.66" fill="#ffe0be"/>
<rect x="232.40" y="411.70" width="18.20" height="20.66" fill="#ffdbb4"/>
<rect x="250.20" y="411.70" width="18.20" height="20.66" fill="#ffd4a5"/>
<rect x="268.00" y="411.70" width="18.20" height="20.66" fill="#ffcf9b"/>
<rect x="285.80" y="411.70" width="18.20" height="20.66" fill="#ffc587"/>
<rect x="303.60" y="411.70" width="18.20" height="20.66" fill="#ffb769"/>
<rect x="321.40" y="411.70" width="18.20" height="20.66" fill="#ffbc73"/>
<rect x="339.20" y="411.70" width="18.20" height="20.66" fill="#ffbc73"/>
<rect x="357.00" y="411.70" width="18.20" height="20.66" fill="#ffbc73"/>
<rect x="374.80" y="411.70" width="18.20" height="20.66" fill="#ffbc73"/>
<rect x="392.60" y="411.70" width="18.20" height="20.66" fill="#ffbc73"/>
<rect x="410.40" y="411.70" width="18.20" height="20.66" fill="#ffbc73"/>
<rect x="428.20" y="411.70" width="18.20" height="20.66" fill="#ffb769"/>
<rect x="446.00" y="411.70" width="18.20" height="20.66" fill="#ffb25f"/>
<rect x="463.80" y="411.70" width="18.20" height="20.66" fill="#ffb25f"/>
<rect x="481.60" y="411.70" width="18.20" height="20.66" fill="#ffb25f"/>
<rect x="499.40" y="411.70" width="18.20" height="20.66" fill="#ffb25f"/>
<rect x="72.20" y="431.96" width="18.20" height="20.66" fill="#fffbf7"/>
<rect x="90.00" y="431.96" width="18.20" height="20.66" fill="#fffbf7"/>
<rect x="107.80" y="431.96" width="18.20" height="20.66" fill="#fff6ed"/>
<rect x="125.60" y="431.96" width="18.20" height="20.66" fill="#fff6ed"/>
<rect x="143.40" y="431.96" width="18.20" height="20.66" fill="#fff6ed"/>
<rect x="161.20" y="431.96" width="18.20" height="20.66" fill="#fff6ed"/>
<rect x="179.00" y="431.96" width="18.20" height="20.66" fill="#fff6ed"/>
<rect x="196.80" y="431.96" width="18.20" height="20.66" fill="#fff6ed"/>
<rect x="214.60" y="431.96" width="18.20" height="20.66" fill="#fff6ed"/>
<rect x="232.40" y="431.96" width="18.20" height="20.66" fill="#fff2e3"/>
<rect x="250.20" y="431.96" width="18.20" height="20.66" fill="#ffecd7"/>
<rect x="268.00" y="431.96" width="18.20" height="20.66" fill="#ffecd7"/>
<rect x="285.80" y="431.96" width="18.20" height="20.66" fill="#ffecd7"/>
<rect x="303.60" y="431.96" width="18.20" height="20.66" fill="#ffe7cd"/>
<rect x="321.40" y="431.96" width="18.20" height="20.66" fill="#ffe7cd"/>
<rect x="339.20" y="431.96" width="18.20" height="20.66" fill="#ffe7cd"/>
<rect x="357.00" y="431.96" width="18.20" height="20.66" fill="#ffe7cd"/>
<rect x="374.80" y="431.96" width="18.20" height="20.66" fill="#ffe7cd"/>
<rect x="392.60" y="431.96" width="18.20" height="20.66" fill="#ffe7cd"/>
<rect x="410.40" y="431.96" width="18.20" height="20.66" fill="#ffe7cd"/>
<rect x="428.20" y="431.96" width="18.20" height="20.66" fill="#ffe2c3"/>
<rect x="446.00" y="431.96" width="18.20" height="20.66" fill="#ffddb9"/>
<rect x="463.80" y="431.96" width="18.20" height="20.66" fill="#ffddb9"/>
<rect x="481.60" y="431.96" width="18.20" height="20.66" fill="#ffddb9"/>
<rect x="499.40" y="431.96" width="18.20" height="20.66" fill="#ffddb9"/>
<rect x="72.20" y="452.22" width="18.20" height="20.66" fill="#fffefc"/>
<rect x="90.00" y="452.22" width="18.20" height="20.66" fill="#fffefc"/>
<rect x="107.80" y="452.22" width="18.20" height="20.66" fill="#fffefc"/>
<rect x="125.60" y="452.22" width="18.20" height="20.66" fill="#fffefc"/>
<rect x="143.40" y="452.22" width="18.20" height="20.66" fill="#fffefc"/>
<rect x="161.20" y="452.22" width="18.20" height="20.66" fill="#fffbf7"/>
<rect x="179.00" y="452.22" width="18.20" height="20.66" fill="#fffbf7"/>
<rect x="196.80" y="452.22" width="18.20" height="20.66" fill="#fffbf7"/>
<rect x="214.60" y="452.22" width="18.20" height="20.66" fill="#fffbf7"/>
<rect x="232.40" y="452.22" width="18.20" height="20.66" fill="#fffbf7"/>
<rect x="250.20" y="452.22" width="18.20" height="20.66" fill="#fff5eb"/>
<rect x="268.00" y="452.22" width="18.20" height="20.66" fill="#fff5eb"/>
<rect x="285.80" y="452.22" width="18.20" height="20.66" fill="#fff5eb"/>
<rect x="303.60" y="452.22" width="18.20" height="20.66" fill="#fff5eb"/>
<rect x="321.40" y="452.22" width="18.20" height="20.66" fill="#fff5eb"/>
<rect x="339.20" y="452.22" width="18.20" height="20.66" fill="#fff5eb"/>
<rect x="357.00" y="452.22" width="18.20" height="20.66" fill="#fff1e1"/>
<rect x="374.80" y="452.22" width="18.20" height="20.66" fill="#fff1e1"/>
<rect x="392.60" y="452.22" width="18.20" height="20.66" fill="#fff1e1"/>
<rect x="410.40" y="452.22" width="18.20" height="20.66" fill="#fff1e1"/>
<rect x="428.20" y="452.22" width="18.20" height="20.66" fill="#fff1e1"/>
<rect x="446.00" y="452.22" width="18.20" height="20.66" fill="#fff1e1"/>
<rect x="463.80" y="452.22" width="18.20" height="20.66" fill="#fff1e1"/>
<rect x="481.60" y="452.22" width="18.20" height="20.66" fill="#fff1e1"/>
<rect x="499.40" y="452.22" width="18.20" height="20.66" fill="#fff1e1"/>
<rect x="72.20" y="472.48" width="18.20" height="20.66" fill="#ffffff"/>
<rect x="90.00" y="472.48" width="18.20" height="20.66" fill="#ffffff"/>
<rect x="107.80" y="472.48" width="18.20" height="20.66" fill="#ffffff"/>
<rect x="125.60" y="472.48" width="18.20" height="20.66" fill="#ffffff"/>
<rect x="143.40" y="472.48" width="18.20" height="20.66" fill="#ffffff"/>
<rect x="161.20" y="472.48" width="18.20" height="20.66" fill="#ffffff"/>
<rect x="179.00" y="472.48" width="18.20" height="20.66" fill="#ffffff"/>
<rect x="196.80" y="472.48" width="18.20" height="20.66" fill="#ffffff"/>
<rect x="214.60" y="472.48" width="18.20" height="20.66" fill="#ffffff"/>
<rect x="232.40" y="472.48" width="18.20" height="20.66" fill="#ffffff"/>
<rect x="250.20" y="472.48" width="18.20" height="20.66" fill="#ffffff"/>
<rect x="268.00" y="472.48" width="18.20" height="20.66" fill="#ffffff"/>
<rect x="285.80" y="472.48" width="18.20" height="20.66" fill="#ffffff"/>
<rect x="303.60" y="472.48" width="18.20" height="20.66" fill="#ffffff"/>
<rect x="321.40" y="472.48" width="18.20" height="20.66" fill="#ffffff"/>
<rect x="339.20" y="472.48" width="18.20" height="20.66" fill="#ffffff"/>
<rect x="357.00" y="472.48" width="18.20" height="20.66" fill="#ffffff"/>
<rect x="374.80" y="472.48" width="18.20" height="20.66" fill="#ffffff"/>
<rect x="392.60" y="472.48" width="18.20" height="20.66" fill="#ffffff"/>
<rect x="410.40" y="472.48" width="18.20" height="20.66" fill="#ffffff"/>
<rect x="428.20" y="472.48" width="18.20" height="20.66" fill="#ffffff"/>
<rect x="446.00" y="472.48" width="18.20" height="20.66" fill="#ffffff"/>
<rect x="463.80" y="472.48" width="18.20" height="20.66" fill="#ffffff"/>
<rect x="481.60" y="472.48" width="18.20" height="20.66" fill="#ffffff"/>
<rect x="499.40" y="472.48" width="18.20" height="20.66" fill="#ffffff"/>
<rect x="72.20" y="492.74" width="18.20" height="20.66" fill="#ffffff"/>
<rect x="90.00" y="492.74" width="18.20" height="20.66" fill="#ffffff"/>
<rect x="107.80" y="492.74" width="18.20" height="20.66" fill="#ffffff"/>
<rect x="125.60" y="492.74" width="18.20" height="20.66" fill="#ffffff"/>
<rect x="143.40" y="492.74" width="18.20" height="20.66" fill="#ffffff"/>
<rect x="161.20" y="492.74" width="18.20" height="20.66" fill="#ffffff"/>
<rect x="179.00" y="492.74" width="18.20" height="20.66" fill="#ffffff"/>
<rect x="196.80" y="492.74" width="18.20" height="20.66" fill="#ffffff"/>
<rect x="214.60" y="492.74" width="18.20" height="20.66" fill="#ffffff"/>
<rect x="232.40" y="492.74" width="18.20" height="20.66" fill="#ffffff"/>
<rect x="250.20" y="492.74" width="18.20" height="20.66" fill="#ffffff"/>
<rect x="268.00" y="492.74" width="18.20" height="20.66" fill="#ffffff"/>
<rect x="285.80" y="492.74" width="18.20" height="20.66" fill="#ffffff"/>
<rect x="303.60" y="492.74" width="18.20" height="20.66" fill="#ffffff"/>
<rect x="321.40" y="492.74" width="18.20" height="20.66" fill="#ffffff"/>
<rect x="339.20" y="492.74" width="18.20" height="20.66" fill="#ffffff"/>
<rect x="357.00" y="492.74" width="18.20" height="20.66" fill="#ffffff"/>
<rect x="374.80" y="492.74" width="18.20" height="20.66" fill="#ffffff"/>
<rect x="392.60" y="492.74" width="18.20" height="20.66" fill="#ffffff"/>
<rect x="410.40" y="492.74" width="18.20" height="20.66" fill="#ffffff"/>
<rect x="428.20" y="492.74" width="18.20" height="20.66" fill="#ffffff"/>
<rect x="446.00" y="492.74" width="18.20" height="20.66" fill="#ffffff"/>
<rect x="463.80" y="492.74" width="18.20" height="20.66" fill="#ffffff"/>
<rect x="481.60" y="492.74" width="18.20" height="20.66" fill="#ffffff"/>
<rect x="499.40" y="492.74" width="18.20" height="20.66" fill="#ffffff"/>
</g>
<path d="M73.0,149.5 L91.2,120.8 L110.0,115.0 L116.2,111.2 L128.0,106.2 L146.2,111.8 L165.0,107.5 L183.8,110.0 L202.5,118.8 L210.0,120.8 L222.0,124.5 L240.7,128.5 L258.0,131.5 L275.3,133.9 L295.3,142.7 L314.0,149.6 L331.3,149.6 L348.7,158.1 L360.0,160.7 L369.3,163.3 L388.0,175.9 L405.3,170.8 L424.0,179.3 L442.7,180.7 L461.3,185.2 L480.0,185.5 L498.7,190.8 L517.3,192.0" fill="none" stroke="#000" stroke-width="2" stroke-linejoin="round"/>
<path d="M73.5,274.0 L79.3,301.8 L92.5,323.0 L107.1,337.6 L119.0,349.5 L129.6,360.1 L144.2,369.4 L162.8,377.3 L181.3,382.6 L191.9,388.0 L202.5,393.2 L214.2,395.5 L234.0,399.7 L256.7,404.6 L279.3,408.2 L302.0,411.9 L324.6,413.1 L347.3,413.9 L370.0,413.9 L386.7,413.5 L426.7,414.8 L461.3,414.8 L480.0,414.5 L498.7,411.9 L517.3,406.0" fill="none" stroke="#000" stroke-width="2" stroke-linejoin="round"/>
<path d="M517.3,238.0 L497.0,239.8 L474.0,236.8 L451.0,234.1 L428.0,230.2 L408.8,226.4 L389.7,223.7 L370.5,220.7 L351.3,214.9 L332.2,212.2 L313.0,211.1 L293.6,209.7 L276.6,205.8 L259.6,205.8 L237.0,205.8 L220.0,202.9 L200.2,207.7 L177.5,219.1 L157.7,229.0 L145.8,237.5 L144.9,258.7 L142.1,280.0 L146.9,295.2 L154.8,311.1 L161.4,323.0 L168.1,332.3 L178.7,341.6 L194.6,352.2 L207.8,358.8 L220.0,365.4 L230.0,371.7 L236.8,374.2 L256.7,379.9 L273.7,385.6 L290.7,390.4 L307.6,391.2 L327.5,391.2 L360.0,392.7 L369.3,394.5 L386.7,392.7 L413.3,391.3 L440.0,390.0 L466.7,387.9 L482.7,384.7 L498.7,379.9 L517.3,372.5" fill="none" stroke="#000" stroke-width="2" stroke-linejoin="round"/>
<path d="M221.4,271.5 L239.8,259.6 L262.5,255.1 L282.3,253.1 L305.3,249.4 L324.5,252.1 L343.7,255.2 L366.7,259.0 L389.7,264.7 L400.0,269.5 L409.2,271.1 L425.3,273.0 L434.5,277.1 L444.8,280.3 L455.2,280.3 L462.1,282.2 L466.7,291.4 L471.3,301.7 L479.3,308.6 L489.7,314.4 L500.0,323.6 L496.6,331.6 L490.8,340.8 L481.6,346.6 L469.0,355.7 L461.3,358.0 L448.0,365.5 L427.6,368.4 L409.2,369.5 L386.7,370.8 L360.0,371.7 L333.3,372.7 L310.0,371.7 L286.7,366.0 L263.3,357.3 L243.3,348.3 L226.7,335.0 L216.7,321.7 L209.5,301.5 L215.7,280.0 L221.4,271.5" fill="none" stroke="#000" stroke-width="2" stroke-linejoin="round"/>


<g fill="none" stroke="#f7c295" stroke-width="2.5">
<ellipse cx="311.3" cy="256.4" rx="7.2" ry="6.7"/>
<path d="M311.2,263 V272.5 M306.2,267.8 H316.2"/>
<ellipse cx="322.8" cy="299.7" rx="8" ry="9"/>
<path d="M322.8,290.7 V308.7 M314.8,299.7 H330.8"/>
<ellipse cx="199.3" cy="340.7" rx="6.8" ry="7.2"/>
<path d="M204.3,335.5 L214.3,326.5 M207.3,326.8 H214.3 V333.5"/>
</g>
<rect x="73.0" y="6.9" width="444.30" height="506.90" fill="none" stroke="#000" stroke-width="2"/>
<rect x="529.2" y="10.0" width="42.80" height="492.30" fill="url(#cb)" stroke="#000" stroke-width="2"/>
<path d="M73.0,513.80 h8.8 M517.3,513.80 h-8.8 M73.0,429.32 h8.8 M517.3,429.32 h-8.8 M73.0,344.83 h8.8 M517.3,344.83 h-8.8 M73.0,260.35 h8.8 M517.3,260.35 h-8.8 M73.0,175.87 h8.8 M517.3,175.87 h-8.8 M73.0,91.38 h8.8 M517.3,91.38 h-8.8 M73.0,6.90 h8.8 M517.3,6.90 h-8.8 M221.10,513.8 v-10 M221.10,6.9 v10 M369.20,513.8 v-10 M369.20,6.9 v10 M529.2,502.30 h8 M572.0,502.30 h-8 M529.2,453.07 h4 M572.0,453.07 h-4 M529.2,403.84 h8 M572.0,403.84 h-8 M529.2,354.61 h4 M572.0,354.61 h-4 M529.2,305.38 h8 M572.0,305.38 h-8 M529.2,256.15 h4 M572.0,256.15 h-4 M529.2,206.92 h8 M572.0,206.92 h-8 M529.2,157.69 h4 M572.0,157.69 h-4 M529.2,108.46 h8 M572.0,108.46 h-8 M529.2,59.23 h4 M572.0,59.23 h-4 M529.2,10.00 h8 M572.0,10.00 h-8" stroke="#000" stroke-width="2" fill="none"/>
<g font-size="20" fill="#000">
<text x="67.3" y="514.20" text-anchor="end">0</text>
<text x="67.3" y="435.32" text-anchor="end">100</text>
<text x="67.3" y="350.83" text-anchor="end">200</text>
<text x="67.3" y="266.35" text-anchor="end">300</text>
<text x="67.3" y="181.87" text-anchor="end">400</text>
<text x="67.3" y="97.38" text-anchor="end">500</text>
<text x="67.3" y="18.15" text-anchor="end">600</text>

<text x="73.00" y="539.7" text-anchor="middle">0.3125</text>
<text x="221.10" y="539.7" text-anchor="middle">0.625</text>
<text x="369.20" y="539.7" text-anchor="middle">1.25</text>
<text x="517.30" y="539.7" text-anchor="middle">2.5</text>

<text x="295" y="560.6" text-anchor="middle" font-size="20.26">Planet radius in Earth radii</text>
<text transform="translate(17.3,260) rotate(-90)" text-anchor="middle" font-size="20.4">Planet effective temperature in Kelvin</text>
<text x="577" y="502.70" font-size="16">0.0</text>
<text x="577" y="409.84" font-size="16">0.2</text>
<text x="577" y="311.38" font-size="16">0.4</text>
<text x="577" y="212.92" font-size="16">0.6</text>
<text x="577" y="114.46" font-size="16">0.8</text>
<text x="577" y="20.10" font-size="16">1.0</text>

</g>
</svg>
</body></html>
